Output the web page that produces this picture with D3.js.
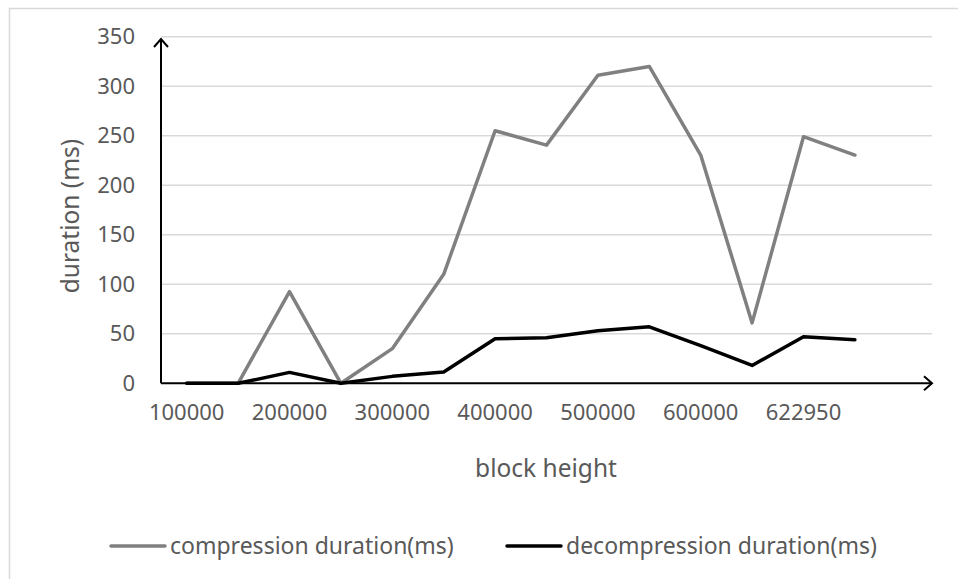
<!DOCTYPE html>
<html>
<head>
<meta charset="utf-8">
<script src="https://cdn.jsdelivr.net/npm/d3@7"></script>
<style>
  html, body { margin: 0; padding: 0; background: #fff; }
  svg { display: block; }
  text { font-family: "Noto Sans", "Open Sans", sans-serif; fill: #595959; }
</style>
</head>
<body>
<svg id="chart" width="958" height="579"></svg>
<script>
// ---- data ----
const slots = d3.range(15); // category slots along the x axis
const xTickLabels = ["100000", "", "200000", "", "300000", "", "400000", "", "500000", "", "600000", "", "622950", "", ""];
const compression = [0, 0, 92.5, 0, 35, 110, 255, 240.5, 311, 320, 230.5, 61, 249, 230.5];
const decompression = [0, 0, 11, 0, 7, 11.5, 45, 46, 53, 57, 38, 18, 47, 44];
const yTicks = [0, 50, 100, 150, 200, 250, 300, 350];
const seriesNames = ["compression duration(ms)", "decompression duration(ms)"];
const seriesColors = ["#808080", "#000000"];

const svg = d3.select("#chart");
const plot = { left: 161, right: 932, top: 36.7, bottom: 383.3 };

// chart border
svg.append("rect")
  .attr("x", 9.5).attr("y", 8.5).attr("width", 1000).attr("height", 1000)
  .attr("fill", "none").attr("stroke", "#d9d9d9").attr("stroke-width", 1.5);

const x = d3.scaleBand().domain(slots).range([plot.left, plot.right]).paddingInner(0).paddingOuter(0);
const y = d3.scaleLinear().domain([0, 350]).range([plot.bottom, plot.top]);
const cx = i => x(i) + x.bandwidth() / 2;

// gridlines
svg.append("g").selectAll("line")
  .data(yTicks.filter(d => d > 0))
  .join("line")
  .attr("x1", plot.left).attr("x2", plot.right)
  .attr("y1", d => y(d)).attr("y2", d => y(d))
  .attr("stroke", "#d9d9d9").attr("stroke-width", 1.5);

// y tick labels via axis
const yAxis = svg.append("g")
  .attr("transform", `translate(${plot.left},0)`)
  .call(d3.axisLeft(y).tickValues(yTicks).tickSize(0).tickPadding(26));
yAxis.select(".domain").remove();
yAxis.selectAll("text").attr("font-size", 22).attr("fill", "#595959")
  .style("font-family", "'Noto Sans', sans-serif");

// x tick labels via axis
const xAxis = svg.append("g")
  .attr("transform", `translate(0,${plot.bottom})`)
  .call(d3.axisBottom(x).tickFormat(i => xTickLabels[i]).tickSize(0).tickPadding(21));
xAxis.select(".domain").remove();
xAxis.selectAll("text").attr("font-size", 22).attr("fill", "#595959")
  .style("font-family", "'Noto Sans', sans-serif");

// lines
const line = d3.line().x((d, i) => cx(i)).y(d => y(d));
[compression, decompression].forEach((s, k) => {
  svg.append("path").datum(s)
    .attr("d", line)
    .attr("fill", "none")
    .attr("stroke", seriesColors[k])
    .attr("stroke-width", 3.5)
    .attr("stroke-linejoin", "round")
    .attr("stroke-linecap", "round");
});

// axes with arrows
const axisG = svg.append("g").attr("stroke", "#000").attr("stroke-width", 2).attr("fill", "none");
axisG.append("line").attr("x1", plot.left).attr("x2", plot.left).attr("y1", plot.bottom).attr("y2", 39);
axisG.append("path").attr("d", `M${plot.left - 7},47 L${plot.left},39 L${plot.left + 7},47`);
axisG.append("line").attr("x1", plot.left).attr("x2", plot.right).attr("y1", plot.bottom).attr("y2", plot.bottom);
axisG.append("path").attr("d", `M${plot.right - 8},${plot.bottom - 7} L${plot.right},${plot.bottom} L${plot.right - 8},${plot.bottom + 7}`);

// axis titles
svg.append("text")
  .attr("x", 546).attr("y", 477)
  .attr("text-anchor", "middle")
  .attr("font-size", 24.5)
  .text("block height");
svg.append("text")
  .attr("transform", "translate(79,216) rotate(-90)")
  .attr("text-anchor", "middle")
  .attr("font-size", 24.5)
  .text("duration (ms)");

// legend
const legendItems = [
  { x1: 111, x2: 165, tx: 170 },
  { x1: 507, x2: 561, tx: 566 }
];
legendItems.forEach((it, k) => {
  svg.append("line")
    .attr("x1", it.x1).attr("x2", it.x2).attr("y1", 546).attr("y2", 546)
    .attr("stroke", seriesColors[k]).attr("stroke-width", 3.5).attr("stroke-linecap", "round");
  svg.append("text")
    .attr("x", it.tx).attr("y", 554)
    .attr("font-size", 23)
    .text(seriesNames[k]);
});
</script>
</body>
</html>
